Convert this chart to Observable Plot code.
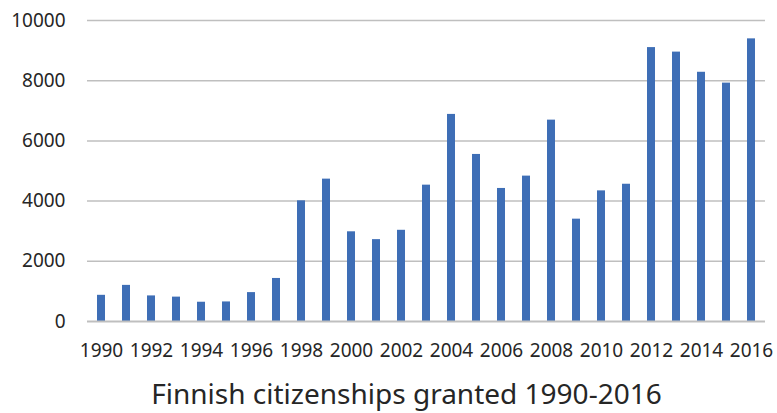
<!DOCTYPE html>
<html>
<head>
<meta charset="utf-8">
<script src="https://cdn.jsdelivr.net/npm/d3@7"></script>
<script src="https://cdn.jsdelivr.net/npm/@observablehq/plot@0.6"></script>
<style>
  html, body { margin: 0; padding: 0; background: #fff; overflow: hidden; }
  #chart { width: 777px; height: 374px; }
  #chart svg { display: block; }
  #title {
    box-sizing: border-box;
    width: 777px;
    font-family: "Noto Sans", sans-serif;
    font-size: 28px;
    color: #262626;
    line-height: 38px;
    height: 38px;
    text-align: center;
    padding-left: 36px;
    white-space: nowrap;
  }
</style>
</head>
<body>
<div id="chart"></div>
<div id="title">Finnish citizenships granted 1990-2016</div>
<script>
// Citizenships granted per year
const years = [1990, 1991, 1992, 1993, 1994, 1995, 1996, 1997, 1998, 1999,
               2000, 2001, 2002, 2003, 2004, 2005, 2006, 2007, 2008, 2009,
               2010, 2011, 2012, 2013, 2014, 2015, 2016];
const granted = [870, 1200, 850, 810, 640, 650, 960, 1430, 4010, 4730,
                 2980, 2720, 3030, 4530, 6880, 5550, 4420, 4830, 6690, 3400,
                 4340, 4560, 9100, 8950, 8280, 7920, 9390];
const yTicks = [0, 2000, 4000, 6000, 8000, 10000];
const xTicks = years.filter(y => y % 2 === 0);

const data = years.map((year, i) => ({year, value: granted[i]}));

const chart = Plot.plot({
  width: 777,
  height: 374,
  marginLeft: 87,
  marginRight: 12,
  marginTop: 20,
  marginBottom: 53,
  style: {fontFamily: "Noto Sans, sans-serif", fontSize: "19px", color: "#262626", background: "#fff"},
  x: {type: "band", domain: years, paddingInner: 0.69, paddingOuter: 0.345, align: 0.5, label: null},
  y: {domain: [0, 10000], label: null},
  marks: [
    Plot.ruleY(yTicks.filter(d => d > 0), {stroke: "#bfbfbf", strokeWidth: 1.5, strokeOpacity: 1}),
    Plot.barY(data, {x: "year", y: "value", fill: "#3e6eb6", inset: 0}),
    Plot.ruleY([0], {stroke: "#bfbfbf", strokeWidth: 2, strokeOpacity: 1}),
    Plot.axisY({ticks: yTicks, tickFormat: d => String(d), tickSize: 0, tickPadding: 22, label: null, fill: "#262626"}),
    Plot.axisX({ticks: xTicks, tickFormat: d => String(d), tickSize: 0, tickPadding: 22, label: null, fill: "#262626"})
  ]
});
document.getElementById("chart").appendChild(chart);
</script>
</body>
</html>
